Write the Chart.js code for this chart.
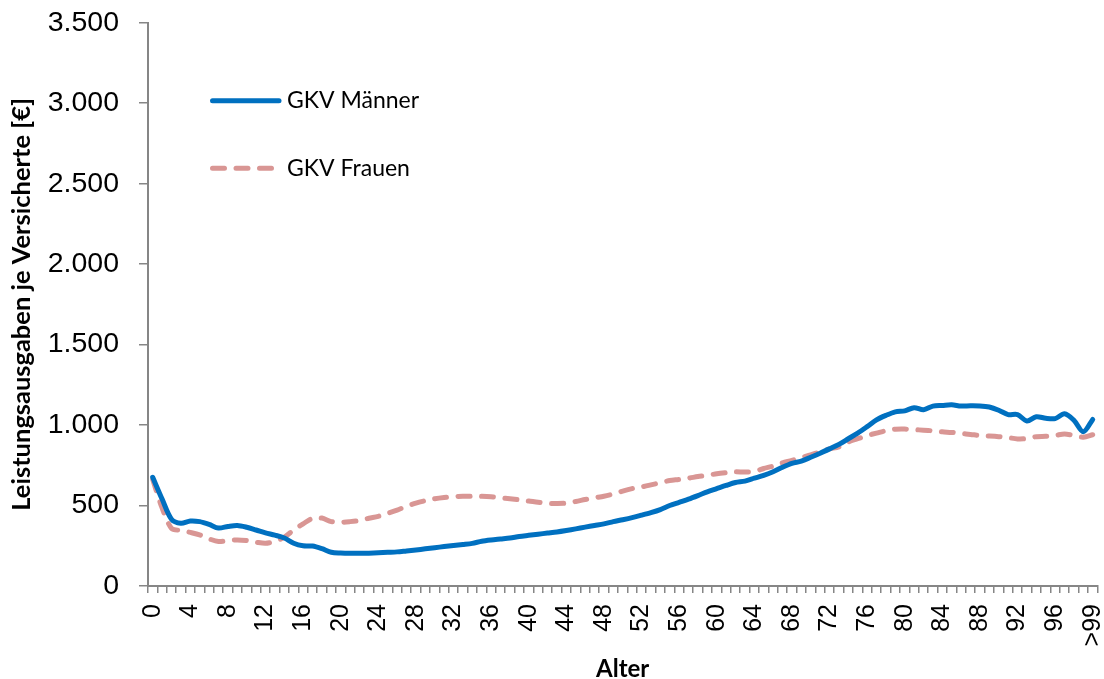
<!DOCTYPE html>
<html lang="de">
<head>
<meta charset="utf-8">
<title>Leistungsausgaben je Versicherte nach Alter</title>
<script src="https://cdn.jsdelivr.net/npm/chart.js@4.4.1/dist/chart.umd.min.js"></script>
<style>
  html, body { margin: 0; padding: 0; background: #ffffff; }
  #wrap { width: 1104px; height: 679px; }
</style>
</head>
<body>
<div id="wrap"><canvas id="chart" width="1104" height="679"></canvas></div>
<script>
// Altersgruppen 0 bis 99 und ">99"
const ages = [];
for (let a = 0; a <= 99; a++) ages.push(String(a));
ages.push('>99');

// Leistungsausgaben je Versicherte in Euro
const maenner = [
  675, 540, 415, 390, 404, 400, 383, 360, 370, 376,
  365, 348, 330, 316, 298, 266, 250, 248, 232, 210,
  205, 203, 203, 204, 206, 209, 212, 218, 224, 231,
  238, 245, 252, 258, 265, 278, 286, 292, 298, 308,
  315, 322, 329, 336, 345, 355, 366, 376, 386, 400,
  412, 425, 440, 456, 475, 500, 520, 540, 562, 585,
  605, 625, 643, 652, 670, 688, 710, 738, 762, 776,
  800, 825, 852, 880, 915, 950, 990, 1032, 1060, 1082,
  1088, 1108, 1095, 1118, 1122, 1126, 1118, 1120, 1119, 1112,
  1092, 1065, 1065, 1025, 1052, 1042, 1040, 1070, 1030, 958,
  1035
];
const frauen = [
  662, 485, 358, 345, 333, 318, 293, 277, 282, 286,
  282, 272, 265, 277, 303, 348, 386, 420, 422, 400,
  396, 400, 407, 421, 433, 452, 472, 495, 515, 530,
  542, 550, 555, 557, 558, 558, 555, 548, 542, 535,
  528, 520, 514, 513, 515, 525, 537, 548, 558, 572,
  590, 605, 615, 628, 642, 655, 662, 670, 680, 688,
  697, 704, 710, 708, 712, 730, 745, 765, 780, 798,
  815, 834, 852, 865, 895, 915, 935, 950, 965, 974,
  975, 972, 968, 964, 958, 954, 948, 942, 935, 932,
  928, 922, 914, 916, 928, 930, 935, 945, 935, 925,
  940
];

const seriesNames = ['GKV Männer', 'GKV Frauen'];
const yTicks = { min: 0, max: 3500, step: 500 };

const axisGrey = '#868686';
const blue = '#0070C0';
const rose = '#D99694';
const titleFamily = 'Lato, "Open Sans", sans-serif';
const tickFamily = '"Liberation Sans", Arial, sans-serif';

// Tausender mit Punkt trennen
function formatDe(v) {
  return String(Math.round(v)).replace(/\B(?=(\d{3})+(?!\d))/g, '.');
}

// Legende innerhalb der Zeichenfläche, oben links
const innerLegend = {
  id: 'innerLegend',
  afterDatasetsDraw(chart) {
    const ctx = chart.ctx;
    const area = chart.chartArea;
    const rows = [
      { ds: chart.data.datasets[0], y: area.top + 78, x1: area.left + 64.5, x2: area.left + 131 },
      { ds: chart.data.datasets[1], y: area.top + 145.5, x1: area.left + 64.5, x2: area.left + 123.5 }
    ];
    ctx.save();
    rows.forEach(r => {
      ctx.beginPath();
      ctx.lineWidth = r.ds.borderWidth;
      ctx.strokeStyle = r.ds.borderColor;
      ctx.lineCap = 'round';
      ctx.setLineDash(r.ds.borderDash || []);
      ctx.moveTo(r.x1, r.y);
      ctx.lineTo(r.x2, r.y);
      ctx.stroke();
      ctx.setLineDash([]);
      ctx.font = '23px ' + titleFamily;
      ctx.fillStyle = '#000000';
      ctx.textAlign = 'left';
      ctx.textBaseline = 'middle';
      ctx.fillText(r.ds.label, area.left + 139, r.y);
    });
    ctx.restore();
  }
};

new Chart(document.getElementById('chart'), {
  type: 'line',
  data: {
    labels: ages,
    datasets: [
      {
        label: seriesNames[0],
        data: maenner,
        borderColor: blue,
        borderWidth: 5,
        borderCapStyle: 'round',
        borderJoinStyle: 'round',
        pointRadius: 0,
        tension: 0.3,
        fill: false
      },
      {
        label: seriesNames[1],
        data: frauen,
        borderColor: rose,
        borderWidth: 5,
        borderDash: [12, 11.5],
        borderCapStyle: 'round',
        borderJoinStyle: 'round',
        pointRadius: 0,
        tension: 0.3,
        fill: false
      }
    ]
  },
  options: {
    responsive: false,
    animation: false,
    devicePixelRatio: 1,
    layout: { padding: { top: 22.7, right: 6.6, bottom: 0, left: 0 } },
    plugins: {
      legend: { display: false },
      tooltip: { enabled: false }
    },
    scales: {
      x: {
        type: 'category',
        offset: true,
        border: { display: true, color: axisGrey, width: 2 },
        grid: {
          offset: true,
          drawOnChartArea: false,
          drawTicks: true,
          tickLength: 7,
          color: axisGrey,
          lineWidth: 1.5
        },
        ticks: {
          autoSkip: false,
          minRotation: 90,
          maxRotation: 90,
          padding: 11,
          color: '#000000',
          font: { family: tickFamily, size: 25 },
          callback: function (value, index) {
            return index % 4 === 0 ? this.getLabelForValue(value) : '';
          }
        },
        title: {
          display: true,
          text: 'Alter',
          color: '#000000',
          font: { family: titleFamily, size: 24, weight: 'bold', lineHeight: 1.2 },
          padding: { top: 0, bottom: -5 }
        },
        afterFit(scale) {
          scale.height = 93;
          scale.paddingLeft = 0;
          scale.paddingRight = 0;
        }
      },
      y: {
        min: yTicks.min,
        max: yTicks.max,
        border: { display: true, color: axisGrey, width: 2 },
        grid: {
          drawOnChartArea: false,
          drawTicks: true,
          tickLength: 9,
          color: axisGrey,
          lineWidth: 1.5
        },
        ticks: {
          stepSize: yTicks.step,
          padding: 20,
          color: '#000000',
          font: { family: tickFamily, size: 28.5 },
          callback: v => formatDe(v)
        },
        title: {
          display: true,
          text: 'Leistungsausgaben je Versicherte [€]',
          color: '#000000',
          font: { family: titleFamily, size: 25.5, weight: 'bold', lineHeight: 1.2 },
          padding: { top: 6, bottom: 0 }
        },
        afterFit(scale) {
          scale.width = 148;
          scale.paddingTop = 0;
          scale.paddingBottom = 0;
        }
      }
    }
  },
  plugins: [innerLegend]
});
</script>
</body>
</html>
